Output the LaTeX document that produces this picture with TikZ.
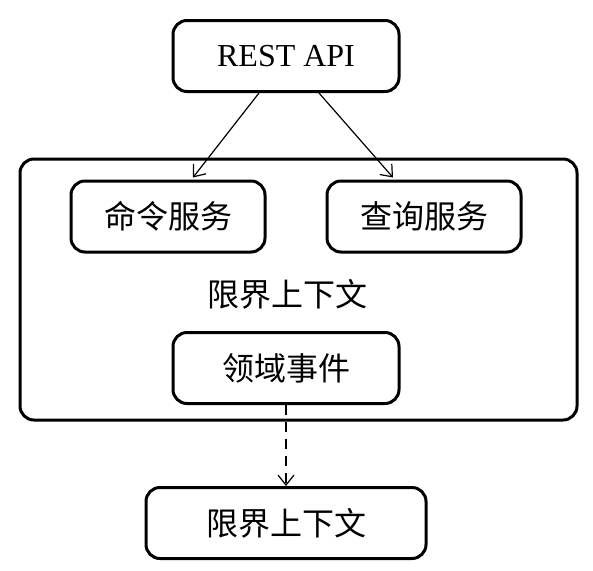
\documentclass[tikz,border=0pt]{standalone}
\usepackage{fontspec}
\setmainfont{Liberation Serif}
\newfontfamily\cjk{Noto Sans CJK SC}
\usepackage{tikz}
\usetikzlibrary{arrows.meta, positioning}
\tikzstyle{svc} = [rectangle, minimum height=71pt, align=center, draw=black, line width=3pt, rounded corners=14pt, font=\fontsize{32}{38}\selectfont]
\tikzstyle{ctx} = [rectangle, draw=black, line width=3pt, rounded corners=14pt]
\tikzstyle{arrow} = [line width=1.2pt, -{Straight Barb[length=10pt, width=16pt]}]

\begin{document}
\begin{tikzpicture}[x=1pt, y=1pt]
            \useasboundingbox (0,0) rectangle (593,-570);
            \node (bc) [ctx, minimum width=557pt, minimum height=261pt] at (298.5,-289.5) {};
            \node (api) [svc, minimum width=226pt] at (286,-56) {REST API};
            \node (cmd) [svc, minimum width=194pt] at (168,-216.5) {\cjk 命令服务};
            \node (qry) [svc, minimum width=194pt] at (424,-216.5) {\cjk 查询服务};
            \node (bclabel) [font=\fontsize{32}{38}\selectfont] at (287,-294) {\cjk 限界上下文};
            \node (evt) [svc, minimum width=226pt, below=238pt of api] {\cjk 领域事件};
            \node (other) [svc, minimum width=280pt, below=81pt of evt] {\cjk 限界上下文};

            \draw [arrow] ([xshift=-27pt]api.south) -- ([xshift=25pt,yshift=2pt]cmd.north);
            \draw [arrow] ([xshift=33pt]api.south) -- ([xshift=-31pt,yshift=2pt]qry.north);
            \draw [arrow, dash pattern=on 10pt off 7pt] (evt) -- (other);
        \end{tikzpicture}
\end{document}
